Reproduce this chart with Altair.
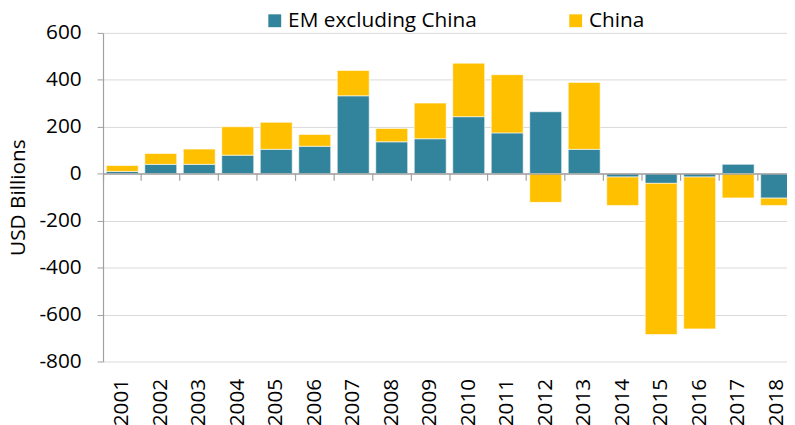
import altair as alt
import pandas as pd

years = [str(y) for y in range(2001, 2019)]
em = [10, 40, 40, 79, 104, 117, 332, 136, 149, 243, 174, 264, 104, -14, -41, -14, 40, -104]
china = [25, 46, 65, 121, 115, 50, 108, 57, 152, 228, 248, -122, 285, -121, -644, -647, -103, -31]
series = ["EM excluding China", "China"]
colors = ["#31849B", "#FFC000"]
y_ticks = [600, 400, 200, 0, -200, -400, -600, -800]

rows = []
for i, yr in enumerate(years):
    rows.append({"year": yr, "series": series[0], "value": em[i], "k": 0})
    rows.append({"year": yr, "series": series[1], "value": china[i], "k": 1})
df = pd.DataFrame(rows)

FONT = "Open Sans"
W, H = 700, 332
x_scale = alt.Scale(paddingInner=0, paddingOuter=0)
y_scale = alt.Scale(domain=[-800, 600], nice=False)

bars = alt.Chart(df).mark_bar(
    width=alt.RelativeBandSize(0.83), stroke="white", strokeWidth=1, strokeOpacity=0.6
).encode(
    x=alt.X("year:N", sort=years, scale=x_scale,
            axis=alt.Axis(title=None, orient="bottom", labelAngle=270, ticks=False, tickSize=0,
                          domain=False, labelPadding=17, labelFontSize=21, labelColor="black",
                          labelFont=FONT, grid=False)),
    y=alt.Y("value:Q", stack="zero", scale=y_scale,
            axis=alt.Axis(values=y_ticks, title="USD Billions", orient="left", titleFont=FONT,
                          titleFontSize=21, titleFontWeight="normal", titleColor="black",
                          titleAngle=270, titleX=-85, titleY=H / 2, titleAlign="center",
                          titleBaseline="middle",
                          labelExpr="'' + datum.value",
                          labelFont=FONT, labelFontSize=21, labelColor="black",
                          labelPadding=16, tickSize=6, tickColor="#A0A0A0",
                          domainColor="#A0A0A0", domainWidth=1.2,
                          grid=True, gridColor="#D9D9D9", gridWidth=1)),
    color=alt.Color("series:N", scale=alt.Scale(domain=series, range=colors),
                    legend=alt.Legend(title=None, orient="none", legendX=163, legendY=-23,
                                      direction="horizontal", symbolType="square",
                                      symbolSize=169, symbolStrokeWidth=0,
                                      labelFont=FONT, labelFontSize=21, labelColor="black",
                                      labelOffset=3, columnPadding=89, padding=0,
                                      labelLimit=400)),
    order=alt.Order("k:Q"),
)

zero_axis = alt.Chart(df).mark_bar(opacity=0).encode(
    x=alt.X("year:N", sort=years, scale=x_scale,
            axis=alt.Axis(title=None, orient="bottom", labels=False, offset=-190, bandPosition=0,
                          domain=True, domainColor="#A0A0A0", domainWidth=1.6,
                          ticks=True, tickSize=7, tickColor="#A0A0A0", tickWidth=1.2,
                          grid=False, zindex=1)),
    y=alt.Y("value:Q", stack="zero", scale=y_scale, axis=None),
)

chart = alt.layer(bars, zero_axis).resolve_axis(x="independent", y="independent").properties(
    width=W, height=H,
    autosize=alt.AutoSizeParams(type="none"),
    padding={"left": 96, "top": 23, "right": -9, "bottom": 62},
).configure_view(stroke=None)

chart.save("out.html", embed_options={"renderer": "svg", "actions": False})
